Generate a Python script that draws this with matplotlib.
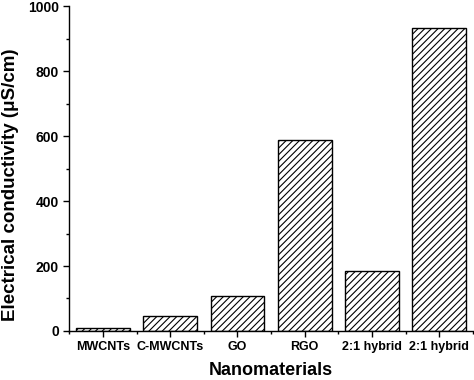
import matplotlib.pyplot as plt
import numpy as np
from matplotlib.ticker import MultipleLocator

plt.rcParams['font.family'] = 'sans-serif'
plt.rcParams['font.sans-serif'] = ['Liberation Sans', 'DejaVu Sans']
plt.rcParams['hatch.linewidth'] = 0.8

materials = ['MWCNTs', 'C-MWCNTs', 'GO', 'RGO', '2:1 hybrid', '2:1 hybrid']
conductivity = [8, 46, 108, 588, 185, 932]

fig = plt.figure(figsize=(4.74, 3.8), dpi=100)
ax = fig.add_axes([0.146, 0.129, 0.852, 0.855])

x = np.arange(len(materials))
ax.bar(x, conductivity, width=0.8, color='white', edgecolor='black',
       linewidth=1.0, hatch='/////')

ax.set_xlim(-0.5, 5.5)
ax.set_ylim(0, 1000)
ax.set_xticks(x)
ax.set_xticklabels(materials, fontsize=9, fontweight='bold')
ax.xaxis.set_minor_locator(MultipleLocator(1, offset=0.5))
ax.yaxis.set_major_locator(MultipleLocator(200))
ax.yaxis.set_minor_locator(MultipleLocator(100))
for lab in ax.get_yticklabels():
    lab.set_fontsize(10)
    lab.set_fontweight('bold')
ax.tick_params(which='major', length=4, width=1, direction='out')
ax.tick_params(which='minor', length=2.5, width=1, direction='out')

ax.spines['top'].set_visible(False)
ax.spines['right'].set_visible(False)
ax.spines['left'].set_linewidth(1.0)
ax.spines['bottom'].set_linewidth(1.0)

ax.set_xlabel('Nanomaterials', fontsize=13, fontweight='bold', labelpad=6)
ax.set_ylabel('Electrical conductivity (\u03bcS/cm)', fontsize=13.5, fontweight='bold')
ax.yaxis.set_label_coords(-0.125, 0.45)

fig.savefig('out.png', dpi=100)
